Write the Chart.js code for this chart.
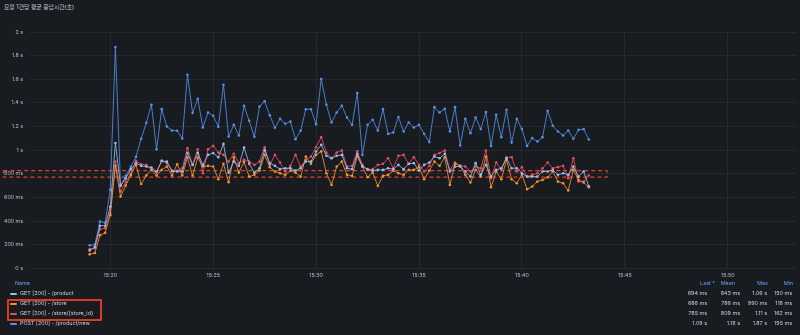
<!DOCTYPE html>
<html>
<head>
<meta charset="utf-8">
<script src="https://cdn.jsdelivr.net/npm/chart.js@4"></script>
<style>
  body { margin: 0; width: 800px; height: 335px; overflow: hidden; position: relative;
         background: #181b1f; color: #ccccdc; font-family: Inter, "Noto Sans CJK KR", sans-serif; }
  #title { position: absolute; left: 4px; top: 3px; font-size: 5.8px; line-height: 8px; white-space: nowrap; }
  #chart { position: absolute; left: 0; top: 0; }
  .cell { position: absolute; font-size: 5.4px; line-height: 9px; white-space: nowrap; }
  .head { color: #6e9fff; }
  .num { text-align: right; }
  .mark { position: absolute; width: 7px; height: 2px; border-radius: 1px; }
  #box { position: absolute; left: 7px; top: 299px; width: 91px; height: 18px;
         border: 2px solid #dc3a22; border-radius: 1px; }
</style>
</head>
<body>
<div id="title">요청 1건당 평균 응답시간(초)</div>
<canvas id="chart" width="800" height="282"></canvas>
<div id="legend"></div>
<div id="box"></div>
<script>
// samples every 15 s starting 15:19:00 (x in seconds after 15:00)
const startSec = 19 * 60;
const stepSec = 15;

const seriesNames = ["GET [200] - /product", "GET [200] - /store", "GET [200] - /store/{store_id}", "POST [200] - /product/new"];
const seriesColors = ["#96bdf0", "#f5922e", "#ea4d62", "#5590ea"];

const productValues = [
  0.150, 0.180, 0.360, 0.360, 0.520, 1.060, 0.700, 0.760, 0.840, 0.890,
  0.867, 0.861, 0.853, 0.819, 0.909, 0.903, 0.825, 0.819, 0.819, 0.975,
  0.875, 0.975, 0.875, 0.960, 0.975, 0.940, 1.053, 0.810, 0.903, 0.867,
  1.022, 0.884, 0.810, 0.847, 1.000, 0.890, 0.867, 0.839, 0.847, 0.847,
  0.827, 0.847, 0.903, 0.903, 0.988, 1.045, 0.952, 0.932, 0.952, 0.960,
  0.847, 0.839, 0.969, 0.861, 0.839, 0.827, 0.833, 0.833, 0.847, 0.839,
  0.875, 0.839, 0.884, 0.890, 0.827, 0.875, 0.895, 0.946, 0.932, 0.969,
  0.819, 0.861, 0.861, 0.819, 0.776, 0.890, 0.791, 0.875, 0.776, 0.833,
  0.847, 0.932, 0.847, 0.847, 0.805, 0.776, 0.776, 0.776, 0.819, 0.819,
  0.833, 0.791, 0.805, 0.791, 0.861, 0.776, 0.819, 0.694
];
const storeValues = [
  0.118, 0.130, 0.280, 0.300, 0.450, 0.867, 0.607, 0.700, 0.790, 0.875,
  0.714, 0.785, 0.833, 0.785, 0.833, 0.861, 0.785, 0.881, 0.785, 0.937,
  0.785, 0.937, 0.861, 0.867, 0.861, 0.754, 0.884, 0.729, 0.940, 0.810,
  0.900, 0.776, 0.791, 0.827, 0.960, 0.856, 0.819, 0.805, 0.791, 0.827,
  0.810, 0.776, 0.946, 0.884, 0.960, 0.990, 0.805, 0.706, 0.861, 0.903,
  0.791, 0.782, 0.946, 0.861, 0.771, 0.810, 0.697, 0.782, 0.791, 0.827,
  0.805, 0.791, 0.833, 0.833, 0.856, 0.754, 0.827, 0.903, 0.867, 0.940,
  0.706, 0.884, 0.867, 0.791, 0.726, 0.833, 0.776, 0.946, 0.686, 0.819,
  0.754, 0.918, 0.754, 0.720, 0.791, 0.669, 0.692, 0.734, 0.748, 0.771,
  0.819, 0.734, 0.720, 0.658, 0.833, 0.748, 0.726, 0.686
];
const storeIdValues = [
  0.162, 0.169, 0.330, 0.339, 0.469, 0.903, 0.649, 0.730, 0.800, 0.909,
  0.881, 0.875, 0.833, 0.810, 0.909, 0.890, 0.819, 0.825, 0.847, 1.017,
  0.875, 1.008, 0.805, 1.008, 1.036, 0.980, 0.960, 0.903, 0.969, 0.890,
  0.918, 0.903, 0.875, 0.903, 1.025, 0.875, 0.960, 0.895, 0.819, 0.867,
  0.960, 0.861, 0.918, 0.946, 1.025, 1.110, 0.980, 0.932, 0.980, 0.997,
  0.861, 0.867, 0.990, 0.875, 0.833, 0.839, 0.875, 0.884, 0.932, 0.847,
  0.952, 0.960, 0.884, 0.940, 0.875, 0.819, 0.867, 0.960, 0.975, 0.997,
  0.833, 0.895, 0.867, 0.861, 0.819, 0.861, 0.847, 0.997, 0.763, 0.895,
  0.833, 0.940, 0.940, 0.819, 0.856, 0.776, 0.791, 0.805, 0.847, 0.895,
  0.847, 0.856, 0.867, 0.763, 0.932, 0.734, 0.734, 0.785
];
const postValues = [
  0.195, 0.200, 0.395, 0.386, 0.664, 1.873, 0.697, 0.782, 0.859, 0.943,
  1.096, 1.231, 1.384, 1.007, 1.347, 1.200, 1.166, 1.164, 1.098, 1.638,
  1.314, 1.435, 1.192, 1.319, 1.291, 1.197, 1.553, 1.115, 1.214, 1.125,
  1.375, 1.248, 1.113, 1.369, 1.414, 1.295, 1.189, 1.265, 1.223, 1.242,
  1.093, 1.164, 1.346, 1.346, 1.220, 1.602, 1.384, 1.234, 1.319, 1.375,
  1.276, 1.214, 1.483, 0.960, 1.214, 1.257, 1.166, 1.347, 1.138, 1.149,
  1.280, 1.158, 1.234, 1.192, 1.214, 1.138, 1.068, 1.364, 1.319, 1.350,
  1.158, 1.364, 1.039, 1.265, 1.144, 1.276, 1.178, 1.322, 1.036, 1.299,
  1.110, 1.342, 1.064, 1.265, 1.178, 1.036, 1.102, 1.073, 1.110, 1.333,
  1.206, 1.158, 1.124, 1.166, 1.096, 1.172, 1.178, 1.090
];

// dashed box drawn over the chart (two response-time levels and its time span)
const markLevels = [0.827, 0.771];
const markSpan = [888, 2648];

const xTickValues = [1200, 1500, 1800, 2100, 2400, 2700, 3000];
const xTickLabels = ["15:20", "15:25", "15:30", "15:35", "15:40", "15:45", "15:50"];
const yTickValues = [0, 0.2, 0.4, 0.6, 0.8, 1, 1.2, 1.4, 1.6, 1.8, 2];
const yTickLabels = ["0 s", "200 ms", "400 ms", "600 ms", "800 ms", "1 s", "1.2 s", "1.4 s", "1.6 s", "1.8 s", "2 s"];

const statHeads = ["Last *", "Mean", "Max", "Min"];
const statLast = ["694 ms", "686 ms", "785 ms", "1.09 s"];
const statMean = ["843 ms", "786 ms", "809 ms", "1.18 s"];
const statMax = ["1.06 s", "990 ms", "1.11 s", "1.87 s"];
const statMin = ["150 ms", "118 ms", "162 ms", "195 ms"];

function toPoints(values) {
  return values.map((v, i) => ({ x: startSec + i * stepSec, y: v }));
}

function lineSet(label, values, color) {
  return {
    label: label,
    data: toPoints(values),
    borderColor: color,
    backgroundColor: color,
    borderWidth: 0.85,
    pointRadius: 1.3,
    pointBorderWidth: 0,
    pointBackgroundColor: color,
    tension: 0
  };
}

const markBox = {
  label: "mark",
  data: [
    { x: markSpan[0], y: markLevels[0] }, { x: markSpan[1], y: markLevels[0] },
    { x: markSpan[1], y: markLevels[1] }, { x: markSpan[0], y: markLevels[1] },
    { x: markSpan[0], y: markLevels[0] }
  ],
  borderColor: "#d9452b",
  borderWidth: 1.2,
  borderDash: [4, 3],
  pointRadius: 0,
  clip: false
};

const allValues = [productValues, storeValues, storeIdValues, postValues];
const datasets = allValues.map((vals, i) => lineSet(seriesNames[i], vals, seriesColors[i]));
datasets.push(markBox);

const gridColor = "rgba(204,204,220,0.075)";
const tickFont = { family: "Inter, 'Noto Sans CJK KR', sans-serif", size: 5.3 };

new Chart(document.getElementById("chart").getContext("2d"), {
  type: "line",
  data: { datasets: datasets },
  options: {
    responsive: false,
    animation: false,
    layout: { padding: { top: 32, left: 0, right: 0, bottom: 0 } },
    plugins: { legend: { display: false }, tooltip: { enabled: false } },
    scales: {
      x: {
        type: "linear",
        min: 966,
        max: 3199,
        afterBuildTicks: axis => { axis.ticks = xTickValues.map(v => ({ value: v })); },
        afterFit: axis => { axis.height = 13.7; },
        ticks: {
          autoSkip: false, maxRotation: 0, padding: 4,
          color: "rgba(204,204,220,0.9)", font: tickFont,
          callback: v => xTickLabels[xTickValues.indexOf(v)]
        },
        grid: { color: gridColor, drawTicks: false },
        border: { display: false }
      },
      y: {
        min: 0,
        max: 2,
        afterBuildTicks: axis => { axis.ticks = yTickValues.map(v => ({ value: v })); },
        afterFit: axis => { axis.width = 30; },
        ticks: {
          padding: 7,
          color: "rgba(204,204,220,0.9)", font: tickFont,
          callback: v => yTickLabels[yTickValues.indexOf(v)]
        },
        grid: { color: gridColor, drawTicks: false },
        border: { display: false }
      }
    }
  }
});

// legend table
const legend = document.getElementById("legend");
function cell(text, left, top, cls, right) {
  const d = document.createElement("div");
  d.className = "cell " + (cls || "");
  d.textContent = text;
  d.style.top = top + "px";
  if (right !== undefined) d.style.right = (800 - right) + "px";
  else d.style.left = left + "px";
  legend.appendChild(d);
}
const headRights = [715, 735, 768, 793];
const valueRights = [707, 740, 767, 792];
cell("Name", 15, 279.2, "head");
statHeads.forEach((h, i) => cell(h, 0, 279.2, "head num", headRights[i]));
seriesNames.forEach((name, r) => {
  const top = 289.2 + r * 10;
  const m = document.createElement("div");
  m.className = "mark";
  m.style.left = "10px";
  m.style.top = (top + 3.5) + "px";
  m.style.background = seriesColors[r];
  legend.appendChild(m);
  cell(name, 20, top, "");
  [statLast, statMean, statMax, statMin].forEach((col, c) => cell(col[r], 0, top, "num", valueRights[c]));
});
</script>
</body>
</html>
